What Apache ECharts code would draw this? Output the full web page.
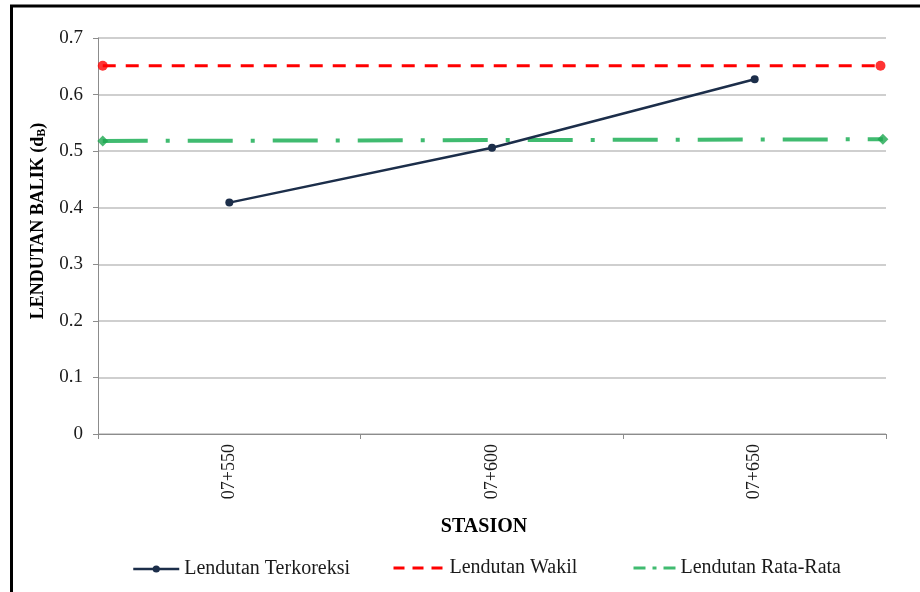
<!DOCTYPE html>
<html>
<head>
<meta charset="utf-8">
<script src="https://cdn.jsdelivr.net/npm/echarts@6/dist/echarts.min.js"></script>
<style>
  html, body { margin: 0; padding: 0; background: #fff; }
  #chart { width: 920px; height: 592px; }
</style>
</head>
<body>
<div id="chart"></div>
<script>
// Stations along the road
const stations = ['07+550', '07+600', '07+650'];
// Corrected rebound deflection per station
const lendutanTerkoreksi = [0.409, 0.506, 0.627];
// Representative deflection (start / end of the reference line)
const lendutanWakil = [0.651, 0.651];
// Average deflection (start / end of the reference line)
const lendutanRataRata = [0.518, 0.521];
// Horizontal span of the reference lines across the plot (0 = left edge, 1 = right edge)
const spanX = [0.006, 0.993];
const spanXAvg = [0.006, 0.996];
// Value axis ticks
const yMin = 0, yMax = 0.7, yStep = 0.1;

const serif = '"Liberation Serif", "Times New Roman", serif';
const chart = echarts.init(document.getElementById('chart'));

const pairs = (xs, ys) => xs.map((x, i) => [x, ys[i]]);

const legendBase = {
  orient: 'horizontal',
  top: 558,
  padding: 0,
  itemHeight: 14,
  textStyle: { fontFamily: serif, fontSize: 20, color: '#1a1a1a' },
  selectedMode: false
};

chart.setOption({
  animation: false,
  backgroundColor: '#ffffff',
  grid: { left: 98, right: 34, top: 38, bottom: 158, containLabel: false },
  xAxis: [
    {
      type: 'category',
      data: stations,
      boundaryGap: true,
      name: 'STASION',
      nameLocation: 'middle',
      nameGap: 83,
      nameTextStyle: { fontFamily: serif, fontSize: 20, fontWeight: 'bold', color: '#000', padding: [0, 16, 0, 0] },
      axisLine: { show: true, lineStyle: { color: '#8c8c8c', width: 1 } },
      axisTick: { show: true, alignWithLabel: false, interval: 0, length: 5, lineStyle: { color: '#8c8c8c' } },
      axisLabel: { rotate: 90, margin: 10, fontFamily: serif, fontSize: 18, color: '#1a1a1a', interval: 0 },
      splitLine: { show: false }
    },
    {
      type: 'value',
      min: 0,
      max: 1,
      show: false
    }
  ],
  yAxis: {
    type: 'value',
    min: yMin,
    max: yMax,
    interval: yStep,
    name: '{t|LENDUTAN BALIK (d}{s|B}{t|)}',
    nameLocation: 'middle',
    nameGap: 45,
    nameTextStyle: {
      padding: [0, 0, 0, 30],
      rich: {
        t: { fontFamily: serif, fontSize: 18, fontWeight: 'bold', color: '#000' },
        s: { fontFamily: serif, fontSize: 12, fontWeight: 'bold', color: '#000', verticalAlign: 'bottom', padding: [8, 0, 0, 0] }
      }
    },
    axisLine: { show: true, lineStyle: { color: '#8c8c8c', width: 1 } },
    axisTick: { show: true, length: 5, lineStyle: { color: '#8c8c8c' } },
    axisLabel: { margin: 15, fontFamily: serif, fontSize: 19, color: '#1a1a1a' },
    splitLine: { show: true, lineStyle: { color: '#bfbfbf', width: 1.5 } }
  },
  legend: [
    Object.assign({}, legendBase, {
      left: 132, itemWidth: 46, itemHeight: 9, top: 559,
      data: [{ name: 'Lendutan Terkoreksi', lineStyle: { width: 2.5 } }]
    }),
    Object.assign({}, legendBase, {
      left: 392, itemWidth: 51,
      data: [{ name: 'Lendutan Wakil', itemStyle: { opacity: 0 }, lineStyle: { width: 3, type: [11, 8] } }]
    }),
    Object.assign({}, legendBase, {
      left: 632, itemWidth: 42,
      data: [{ name: 'Lendutan Rata-Rata', itemStyle: { opacity: 0 }, lineStyle: { width: 3, type: [12, 7, 4, 7] } }]
    })
  ],
  graphic: [
    {
      type: 'rect',
      shape: { x: 11.5, y: 6, width: 1000, height: 1000 },
      style: { fill: 'none', stroke: '#000', lineWidth: 3 },
      silent: true,
      z: 100
    }
  ],
  series: [
    {
      name: 'Lendutan Wakil',
      type: 'line',
      xAxisIndex: 1,
      data: pairs(spanX, lendutanWakil),
      symbol: 'none',
      itemStyle: { color: '#ff0000' },
      lineStyle: { color: '#ff0000', width: 3, type: [13, 10] },
      z: 2
    },
    {
      name: 'wakilEnds',
      type: 'scatter',
      xAxisIndex: 1,
      data: pairs(spanX, lendutanWakil),
      symbol: 'circle',
      symbolSize: 10,
      itemStyle: { color: '#ff0000' },
      z: 3
    },
    {
      name: 'Lendutan Rata-Rata',
      type: 'line',
      xAxisIndex: 1,
      data: pairs(spanXAvg, lendutanRataRata),
      symbol: 'none',
      itemStyle: { color: '#40bb70' },
      lineStyle: { color: '#40bb70', width: 4, type: [45, 18, 4, 18] },
      z: 2
    },
    {
      name: 'rataEnds',
      type: 'scatter',
      xAxisIndex: 1,
      data: pairs(spanXAvg, lendutanRataRata),
      symbol: 'diamond',
      symbolSize: 11,
      itemStyle: { color: '#1da850' },
      z: 3
    },
    {
      name: 'Lendutan Terkoreksi',
      type: 'line',
      xAxisIndex: 0,
      data: lendutanTerkoreksi,
      symbol: 'circle',
      symbolSize: 8,
      showAllSymbol: true,
      itemStyle: { color: '#1c2e4a' },
      lineStyle: { color: '#1c2e4a', width: 2.5 },
      z: 4
    }
  ]
});
</script>
</body>
</html>
